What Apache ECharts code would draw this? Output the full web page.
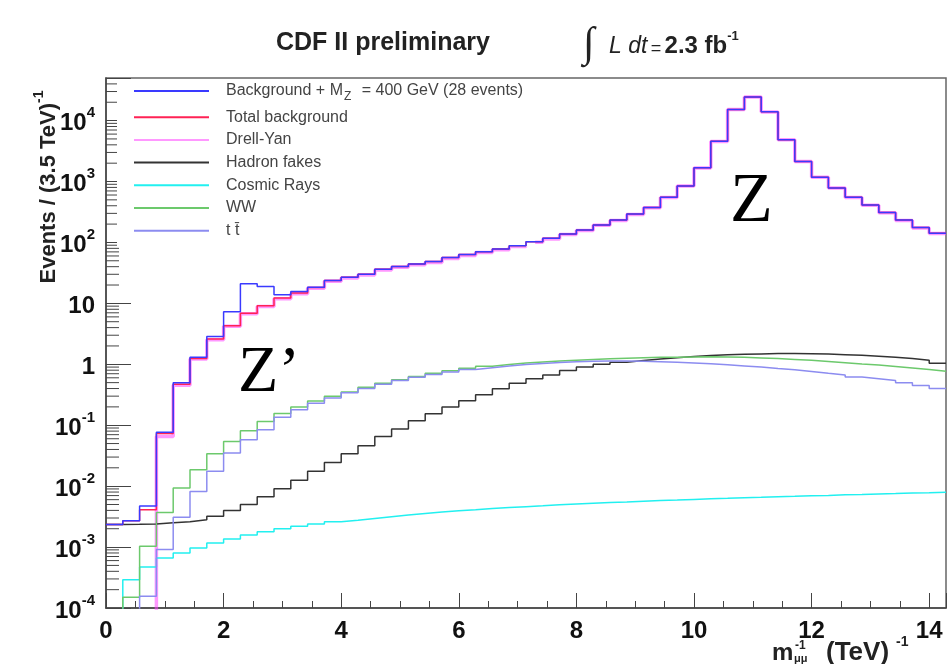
<!DOCTYPE html>
<html>
<head>
<meta charset="utf-8">
<script src="https://cdn.jsdelivr.net/npm/echarts@6/dist/echarts.min.js"></script>
<style>
  html, body { margin: 0; padding: 0; background: #fff; }
  #chart { width: 950px; height: 664px; }
</style>
</head>
<body>
<div id="chart"></div>
<script>
// histogram: 50 bins of width 1/3.5 (TeV)^-1
var nBins = 50;
var binWidth = 1 / 3.5;

// bin contents (events per bin)
var signalPlusBkg = [0.00234, 0.0027, 0.0047, 0.077, 0.50, 1.31, 2.86, 7.3, 20.9, 18.9,
    13.8, 15.6, 18.4, 23.7, 26.9, 30.1, 36.4, 40.2, 44.4, 48.5,
    56.4, 63.1, 70.6, 78.2, 88.6, 103, 117, 138, 160, 194,
    234, 292, 376, 551, 847, 1678, 4560, 15140, 24480, 13900,
    4840, 2128, 1175, 785, 551, 412, 311, 233, 176, 142];
var totalBkg = [0.00234, 0.0027, 0.0041, 0.073, 0.47, 1.25, 2.6, 4.3, 6.9, 9.1,
    12.2, 14.8, 18.2, 23.7, 26.9, 30.1, 36.4, 40.2, 44.4, 48.5,
    56.4, 63.1, 70.6, 78.2, 88.6, 103, 117, 138, 160, 194,
    234, 292, 376, 551, 847, 1678, 4560, 15140, 24480, 13900,
    4840, 2128, 1175, 785, 551, 412, 311, 233, 176, 142];
var drellYan = [1e-6, 1e-6, 1e-6, 0.065, 0.454, 1.22, 2.54, 4.2, 6.75, 8.9,
    11.9, 14.4, 17.7, 23.1, 26.2, 29.2, 35.4, 39.0, 43.0, 46.9,
    54.7, 61.2, 68.5, 75.9, 86.1, 100.3, 114, 135, 157, 191,
    230, 288, 372, 547, 843, 1674, 4556, 15136, 24476, 13896,
    4836, 2124, 1171, 781, 547, 408, 307, 229, 172, 140];
var hadronFakes = [0.00234, 0.00236, 0.0024, 0.0025, 0.0026, 0.0028, 0.0032, 0.0040, 0.0050, 0.0067,
    0.0091, 0.0125, 0.0175, 0.0245, 0.034, 0.046, 0.065, 0.087, 0.118, 0.154,
    0.199, 0.252, 0.316, 0.396, 0.49, 0.58, 0.67, 0.79, 0.90, 1.0,
    1.08, 1.15, 1.22, 1.28, 1.34, 1.39, 1.43, 1.46, 1.48, 1.50,
    1.50, 1.49, 1.47, 1.44, 1.41, 1.36, 1.31, 1.25, 1.17, 1.04];
var cosmicRays = [1e-6, 2.9e-4, 4.7e-4, 6.6e-4, 8.0e-4, 9.7e-4, 1.17e-3, 1.36e-3, 1.58e-3, 1.78e-3,
    2.0e-3, 2.2e-3, 2.4e-3, 2.6e-3, 2.75e-3, 2.95e-3, 3.15e-3, 3.35e-3, 3.55e-3, 3.75e-3,
    3.95e-3, 4.1e-3, 4.3e-3, 4.45e-3, 4.6e-3, 4.75e-3, 4.95e-3, 5.1e-3, 5.25e-3, 5.4e-3,
    5.5e-3, 5.65e-3, 5.8e-3, 5.9e-3, 6.05e-3, 6.2e-3, 6.3e-3, 6.45e-3, 6.55e-3, 6.7e-3,
    6.8e-3, 6.95e-3, 7.05e-3, 7.2e-3, 7.3e-3, 7.45e-3, 7.55e-3, 7.7e-3, 7.8e-3, 7.95e-3];
var ww = [1e-6, 1.5e-4, 1.03e-3, 3.7e-3, 9.3e-3, 0.0186, 0.034, 0.054, 0.081, 0.115,
    0.155, 0.20, 0.25, 0.30, 0.35, 0.42, 0.49, 0.56, 0.63, 0.71,
    0.78, 0.86, 0.93, 0.99, 1.05, 1.09, 1.13, 1.17, 1.20, 1.23,
    1.26, 1.28, 1.30, 1.31, 1.32, 1.33, 1.32, 1.30, 1.27, 1.24,
    1.20, 1.16, 1.11, 1.06, 1.01, 0.97, 0.92, 0.87, 0.82, 0.77];
var ttbar = [1e-6, 1e-6, 1.56e-4, 9.1e-4, 3.1e-3, 8.2e-3, 0.0175, 0.035, 0.058, 0.084,
    0.135, 0.18, 0.23, 0.28, 0.34, 0.40, 0.47, 0.54, 0.61, 0.68,
    0.75, 0.82, 0.88, 0.94, 0.99, 1.03, 1.07, 1.10, 1.12, 1.13,
    1.13, 1.12, 1.10, 1.08, 1.05, 1.02, 0.98, 0.94, 0.90, 0.85,
    0.81, 0.76, 0.71, 0.67, 0.62, 0.58, 0.54, 0.50, 0.45, 0.40];

var legendNames = ['Background + MZ = 400 GeV (28 events)', 'Total background', 'Drell-Yan',
    'Hadron fakes', 'Cosmic Rays', 'WW', 't t\u0304'];

var xTickLabels = [0, 2, 4, 6, 8, 10, 12, 14];
var yMin = 1e-4, yMax = 5e4;

// histogram -> step points at bin edges
function toSteps(values) {
    var pts = [];
    for (var i = 0; i < values.length; i++) pts.push([i * binWidth, values[i]]);
    pts.push([values.length * binWidth, values[values.length - 1]]);
    return pts;
}

// log minor ticks 2..9 per decade
var yMinorTicks = [];
for (var e = -4; e <= 4; e++) {
    for (var m = 2; m <= 9; m++) {
        var v = m * Math.pow(10, e);
        if (v < yMax) yMinorTicks.push([0, v]);
    }
}

var font = 'Liberation Sans, Arial, sans-serif';

function histo(name, values, color, width, z, opacity) {
    return {
        name: name, type: 'line', step: 'end', symbol: 'none', clip: true, z: z,
        data: toSteps(values),
        lineStyle: { color: color, width: width, opacity: opacity || 1 },
        itemStyle: { color: color }
    };
}

var chart = echarts.init(document.getElementById('chart'), null, { renderer: 'canvas' });

chart.setOption({
    animation: false,
    backgroundColor: '#fff',
    textStyle: { fontFamily: font },
    grid: { left: 106, right: 4, top: 78, bottom: 56, show: true, borderColor: '#666', borderWidth: 1.5 },
    legend: {
        data: legendNames,
        orient: 'vertical', left: 117, top: 80,
        padding: [3, 12, 8, 16],
        backgroundColor: '#fff',
        itemWidth: 75, itemHeight: 14, itemGap: 6.7,
        itemStyle: { opacity: 0 },
        formatter: function (name) {
            if (name === legendNames[0]) return '{t|Background + M}{sub|Z}{t| = 400 GeV (28 events)}';
            return '{t|' + name + '}';
        },
        textStyle: {
            padding: [0, 0, 0, 12],
            rich: {
                t: { fontSize: 16, color: '#444', fontFamily: font },
                sub: { fontSize: 12, color: '#444', fontFamily: font, padding: [11, 6, 0, 1] }
            }
        }
    },
    xAxis: {
        type: 'value', min: 0, max: nBins * binWidth, interval: 2,
        axisLine: { lineStyle: { color: '#444', width: 1.5 } },
        axisTick: { inside: true, length: 15, lineStyle: { color: '#444' } },
        minorTick: { show: true, splitNumber: 4, length: 7, lineStyle: { color: '#444' } },
        splitLine: { show: false },
        axisLabel: {
            margin: 11, fontSize: 24, fontWeight: 'bold', color: '#111', fontFamily: font,
            formatter: function (v) {
                return xTickLabels.indexOf(Math.round(v * 1000) / 1000) >= 0 ? String(v) : '';
            }
        }
    },
    yAxis: {
        type: 'log', logBase: 10, min: yMin, max: yMax, splitNumber: 9,
        axisLine: { lineStyle: { color: '#444', width: 1.5 } },
        axisTick: { inside: true, length: 25, lineStyle: { color: '#444' } },
        splitLine: { show: false },
        axisLabel: {
            margin: 11, color: '#111',
            formatter: function (v) {
                var lg = Math.log10(v), ex = Math.round(lg);
                if (Math.abs(lg - ex) > 1e-6) return '';
                if (ex === 0) return '{b|1}';
                if (ex === 1) return '{b|10}';
                return '{b|10}{s|' + ex + '}';
            },
            rich: {
                b: { fontSize: 24, fontWeight: 'bold', color: '#111', fontFamily: font, verticalAlign: 'bottom', lineHeight: 30 },
                s: { fontSize: 15, fontWeight: 'bold', color: '#111', fontFamily: font, verticalAlign: 'top', lineHeight: 15 }
            }
        }
    },
    graphic: [
        { type: 'text', left: 276, top: 31, style: { text: 'CDF II preliminary', font: 'bold 25px ' + font, fill: '#222' } },
        { type: 'text', left: 583, top: 24, style: { text: '\u222B', font: '42px Liberation Serif, serif', fill: '#222' } },
        {
            type: 'text', left: 609, top: 30,
            style: {
                text: '{i|L dt} {n|=} {b|2.3 fb}{s|-1}',
                rich: {
                    i: { font: 'italic 23px ' + font, fill: '#222', verticalAlign: 'bottom', lineHeight: 28 },
                    n: { font: '18px ' + font, fill: '#222', verticalAlign: 'bottom', lineHeight: 26 },
                    b: { font: 'bold 24px ' + font, fill: '#222', verticalAlign: 'bottom', lineHeight: 28 },
                    s: { font: 'bold 13px ' + font, fill: '#222', verticalAlign: 'top', lineHeight: 13 }
                }
            }
        },
        {
            type: 'text', x: 46, y: 187, rotation: Math.PI / 2,
            style: {
                text: '{b|Events / (3.5 TeV)}{s|-1}', align: 'center', verticalAlign: 'middle',
                rich: {
                    b: { font: 'bold 22px ' + font, fill: '#222', verticalAlign: 'bottom', lineHeight: 28 },
                    s: { font: 'bold 14px ' + font, fill: '#222', verticalAlign: 'top', lineHeight: 14 }
                }
            }
        },
        { type: 'text', left: 772, top: 641, style: { text: 'm', font: 'bold 24px ' + font, fill: '#222' } },
        { type: 'text', left: 795, top: 640, style: { text: '-1', font: 'bold 12px ' + font, fill: '#222' } },
        { type: 'text', left: 794, top: 653, style: { text: '\u03BC\u03BC', font: 'bold 11px ' + font, fill: '#222' } },
        { type: 'text', left: 826, top: 640, style: { text: '(TeV)', font: 'bold 26px ' + font, fill: '#222' } },
        { type: 'text', left: 896, top: 635, style: { text: '-1', font: 'bold 14px ' + font, fill: '#222' } },
        { type: 'text', left: 238, top: 341, style: { text: 'Z\u2019', font: '66px Liberation Serif, serif', fill: '#000' } },
        { type: 'text', left: 730, top: 168, style: { text: 'Z', font: '70px Liberation Serif, serif', fill: '#000' } }
    ],
    series: [
        histo(legendNames[2], drellYan, '#ff44ff', 3.5, 2, 0.55),
        histo(legendNames[3], hadronFakes, '#333333', 1.5, 3),
        histo(legendNames[4], cosmicRays, '#22f0f0', 1.5, 3),
        histo(legendNames[5], ww, '#6cc96c', 1.5, 3),
        histo(legendNames[6], ttbar, '#8c8cf0', 1.5, 3),
        histo(legendNames[1], totalBkg, '#ff2255', 1.5, 4),
        histo(legendNames[0], signalPlusBkg, '#3a3aff', 1.5, 5),
        {
            type: 'custom', silent: true, z: 1,
            data: yMinorTicks,
            renderItem: function (params, api) {
                var p = api.coord([0, api.value(1)]);
                return {
                    type: 'line',
                    shape: { x1: p[0], y1: p[1], x2: p[0] + 13, y2: p[1] },
                    style: { stroke: '#444', lineWidth: 1 }
                };
            }
        }
    ]
});
</script>
</body>
</html>
